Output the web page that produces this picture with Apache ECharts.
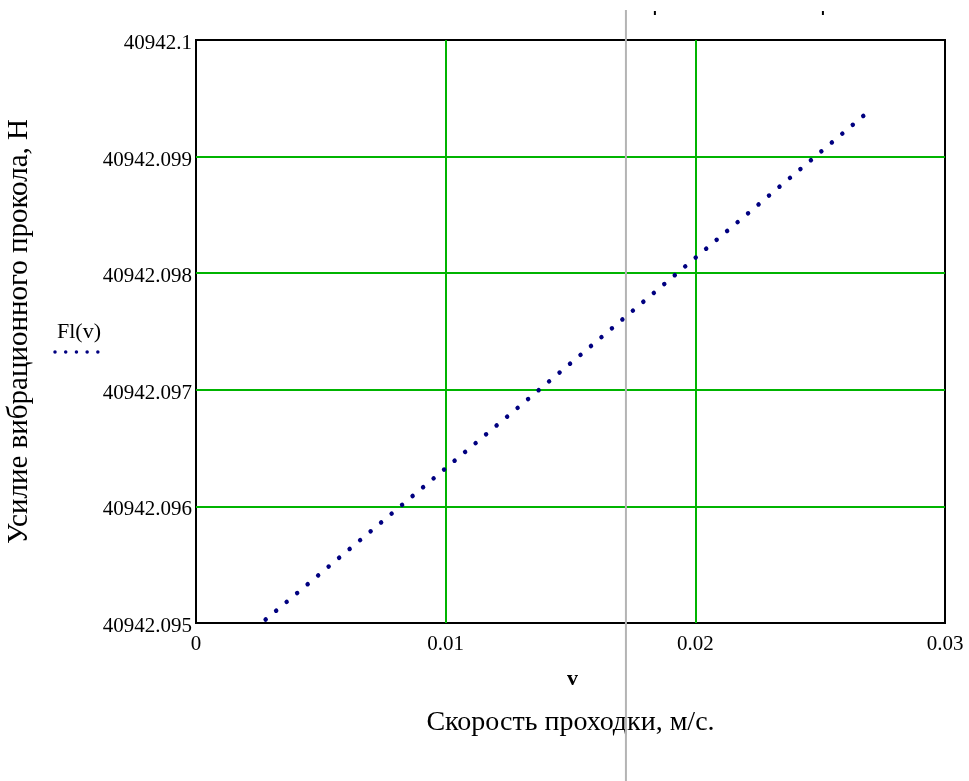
<!DOCTYPE html>
<html>
<head>
<meta charset="utf-8">
<script src="https://cdn.jsdelivr.net/npm/echarts@6/dist/echarts.min.js"></script>
<style>
  html, body { margin: 0; padding: 0; background: #fff; }
  #chart { width: 969px; height: 781px; }
</style>
</head>
<body>
<div id="chart"></div>
<script>
// values
const speedV = [0.00279, 0.01007, 0.01391, 0.02712];
const forceF = [40942.09503, 40942.09634, 40942.09703, 40942.09942];
const xTicks = [0, 0.01, 0.02, 0.03];
const yTicks = [40942.095, 40942.096, 40942.097, 40942.098, 40942.099, 40942.1];
const cursorV = 0.01722;
const topMarksV = [0.01838, 0.02511];

const serif = '"Liberation Serif", "Times New Roman", serif';
const fmt = (v) => String(parseFloat(v.toFixed(3)));

const chart = echarts.init(document.getElementById('chart'), null, { renderer: 'canvas' });

chart.setOption({
  animation: false,
  backgroundColor: '#fff',
  grid: {
    left: 196, right: 24, top: 40, bottom: 158,
    outerBoundsMode: 'none',
    containLabel: false,
    show: true, borderColor: '#000', borderWidth: 2,
  },
  xAxis: {
    type: 'value',
    min: xTicks[0], max: xTicks[xTicks.length - 1], interval: 0.01,
    axisLine: { show: false },
    axisTick: { show: false },
    axisLabel: { color: '#000', fontFamily: serif, fontSize: 21, margin: 11, formatter: fmt },
    splitLine: { show: true, showMinLine: false, showMaxLine: false, lineStyle: { color: '#00b400', width: 2 } },
    name: 'Скорость проходки, м/с.',
    nameLocation: 'middle',
    nameGap: 86,
    nameTextStyle: { color: '#000', fontFamily: serif, fontSize: 28 },
  },
  yAxis: {
    type: 'value',
    min: yTicks[0], max: yTicks[yTicks.length - 1], interval: 0.001,
    axisLine: { show: false },
    axisTick: { show: false },
    axisLabel: {
      color: '#000', fontFamily: serif, fontSize: 21, margin: 4,
      verticalAlign: 'top', lineHeight: 7, formatter: fmt,
    },
    splitLine: { show: true, showMinLine: false, showMaxLine: false, lineStyle: { color: '#00b400', width: 2 } },
    name: 'Усилие вибрационного прокола, Н',
    nameLocation: 'middle',
    nameGap: 162,
    nameTextStyle: { color: '#000', fontFamily: serif, fontSize: 29, verticalAlign: 'bottom', lineHeight: 29 },
  },
  series: [{
    name: 'Fl(v)',
    type: 'line',
    data: speedV.map((v, i) => [v, forceF[i]]),
    showSymbol: false,
    lineStyle: { color: '#000080', width: 4.5, type: [0.01, 13.7], cap: 'round' },
  }],
});

// extras that sit outside the plot: legend text, cursor line, stray marks
const cx = chart.convertToPixel({ xAxisIndex: 0 }, cursorV);
const graphics = [
  { type: 'text', left: 57, top: 321, style: { text: 'Fl(v)', font: '22px ' + serif, fill: '#000' } },
  { type: 'line', shape: { x1: 55, y1: 352, x2: 99, y2: 352 },
    style: { stroke: '#000080', lineWidth: 3.5, lineDash: [0.01, 10.7], lineCap: 'round' } },
  { type: 'text', left: 567, top: 668, style: { text: 'v', font: 'bold 22px ' + serif, fill: '#000' } },
  { type: 'line', z: 10, shape: { x1: cx, y1: 10, x2: cx, y2: 781 }, style: { stroke: '#b4b4b4', lineWidth: 2 } },
];
topMarksV.forEach((v) => {
  const px = chart.convertToPixel({ xAxisIndex: 0 }, v);
  graphics.push({ type: 'rect', shape: { x: px - 1, y: 11, width: 2, height: 4 }, style: { fill: '#000' } });
});
chart.setOption({ graphic: graphics });
</script>
</body>
</html>
